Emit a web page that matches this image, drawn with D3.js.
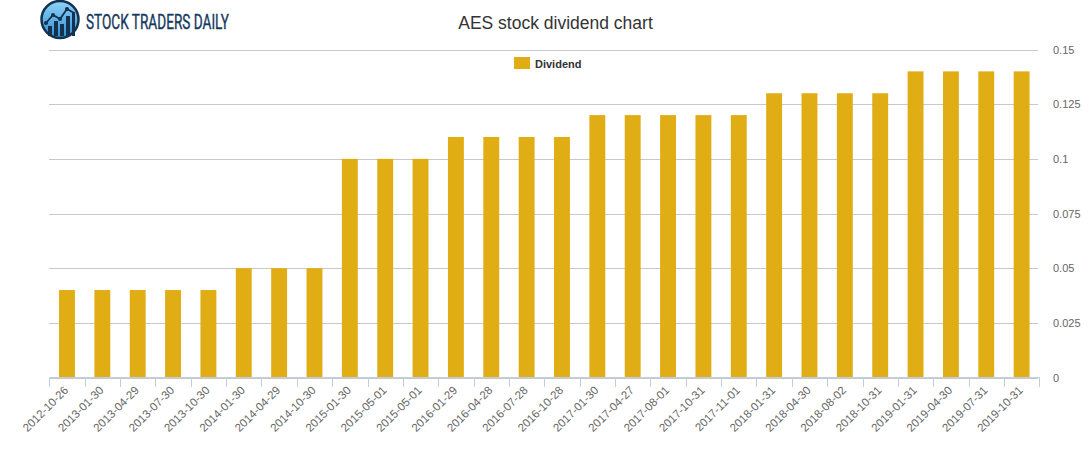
<!DOCTYPE html>
<html><head><meta charset="utf-8">
<script src="https://cdn.jsdelivr.net/npm/d3@7"></script>
<style>body{margin:0;background:#fff;} svg{display:block;font-family:"Liberation Sans",Arial,sans-serif;}</style>
</head><body>
<svg id="c" width="1091" height="450"></svg>
<script>
const categories = ["2012-10-26","2013-01-30","2013-04-29","2013-07-30","2013-10-30","2014-01-30","2014-04-29","2014-10-30","2015-01-30","2015-05-01","2015-05-01","2016-01-29","2016-04-28","2016-07-28","2016-10-28","2017-01-30","2017-04-27","2017-08-01","2017-10-31","2017-11-01","2018-01-31","2018-04-30","2018-08-02","2018-10-31","2019-01-31","2019-04-30","2019-07-31","2019-10-31"];
const dividend = [0.04,0.04,0.04,0.04,0.04,0.05,0.05,0.05,0.10,0.10,0.10,0.11,0.11,0.11,0.11,0.12,0.12,0.12,0.12,0.12,0.13,0.13,0.13,0.13,0.14,0.14,0.14,0.14];
const yTicks = [0,0.025,0.05,0.075,0.1,0.125,0.15];
const yTickLabels = ["0","0.025","0.05","0.075","0.1","0.125","0.15"];
const title = "AES stock dividend chart";
const seriesName = "Dividend";

const svg = d3.select("#c");
const x = d3.scaleBand().domain(d3.range(categories.length)).range([49.3, 1039.3]).paddingInner(0.55).paddingOuter(0.275);
const xb = d3.scaleBand().domain(d3.range(categories.length)).range([49.3, 1039.3]);
const y = d3.scaleLinear().domain([0,0.15]).range([377.5, 49.5]);

// logo
const defs = svg.append("defs");
const g1 = defs.append("linearGradient").attr("id","lg").attr("x1",0).attr("y1",0).attr("x2",0).attr("y2",1);
g1.append("stop").attr("offset","0").attr("stop-color","#8fd3f7");
g1.append("stop").attr("offset","1").attr("stop-color","#2f8fd0");
const logo = svg.append("g");
logo.append("circle").attr("cx",60).attr("cy",19.5).attr("r",18.5).attr("fill","url(#lg)").attr("stroke","#14314f").attr("stroke-width",2.5);
[[48,26,4],[54,21,4],[60,24,4],[66,16,4],[72,12,3]].forEach(([bx,by,bw])=>{
  logo.append("rect").attr("x",bx).attr("y",by).attr("width",bw).attr("height",36-by).attr("fill","#14314f");
});
logo.append("polyline").attr("points","46,23 53,15 60,19 67,9 74,13").attr("fill","none").attr("stroke","#14314f").attr("stroke-width",1.8);
[[46,23],[53,15],[60,19],[67,9]].forEach(([px,py])=>logo.append("circle").attr("cx",px).attr("cy",py).attr("r",2).attr("fill","#14314f"));
logo.append("text").attr("x",86).attr("y",28.5).attr("font-family","'Liberation Sans Narrow','Roboto','Liberation Sans',sans-serif")
  .attr("font-size",21).attr("fill","#163a5e").attr("stroke","#163a5e").attr("stroke-width",0.4)
  .attr("textLength",143).attr("lengthAdjust","spacingAndGlyphs").text("STOCK TRADERS DAILY");

// title
svg.append("text").attr("x",555.5).attr("y",28.5).attr("text-anchor","middle").attr("font-size",17.5).attr("fill","#333").text(title);

// grid
svg.append("g").selectAll("line").data(yTicks).join("line")
  .attr("x1",49).attr("x2",1038).attr("y1",d=>Math.round(y(d))+0.5).attr("y2",d=>Math.round(y(d))+0.5)
  .attr("stroke","#c8c8c8").attr("stroke-width",1);

// y labels
svg.append("g").selectAll("text").data(yTicks).join("text")
  .attr("x",1053).attr("y",d=>y(d)+4).attr("font-size",11).attr("fill","#666").text((d,i)=>yTickLabels[i]);

// bars
svg.append("g").selectAll("rect").data(dividend).join("rect")
  .attr("x",(d,i)=>x(i)).attr("width",x.bandwidth()).attr("y",d=>y(d)).attr("height",d=>y(0)-y(d)).attr("fill","#e1ad15");

// x axis
const xa = svg.append("g");
xa.append("line").attr("x1",49).attr("x2",1039.5).attr("y1",377.5).attr("y2",377.5).attr("stroke","#c0d0e0");
const ticks = d3.range(categories.length+1).map(i=>49.3+i*xb.step());
xa.selectAll("line.t").data(ticks).join("line").attr("class","t")
  .attr("x1",d=>Math.round(d)+0.5).attr("x2",d=>Math.round(d)+0.5).attr("y1",377).attr("y2",387).attr("stroke","#c0d0e0");
xa.selectAll("text").data(categories).join("text")
  .attr("transform",(d,i)=>`translate(${xb(i)+xb.bandwidth()/2+2},${391}) rotate(-45)`)
  .attr("text-anchor","end").attr("font-size",11.5).attr("fill","#666").text(d=>d);

// legend
svg.append("rect").attr("x",514).attr("y",57).attr("width",16).attr("height",12).attr("fill","#e1ad15");
svg.append("text").attr("x",535).attr("y",67.5).attr("font-size",11).attr("font-weight","bold").attr("fill","#333").text(seriesName);
</script>
</body></html>
